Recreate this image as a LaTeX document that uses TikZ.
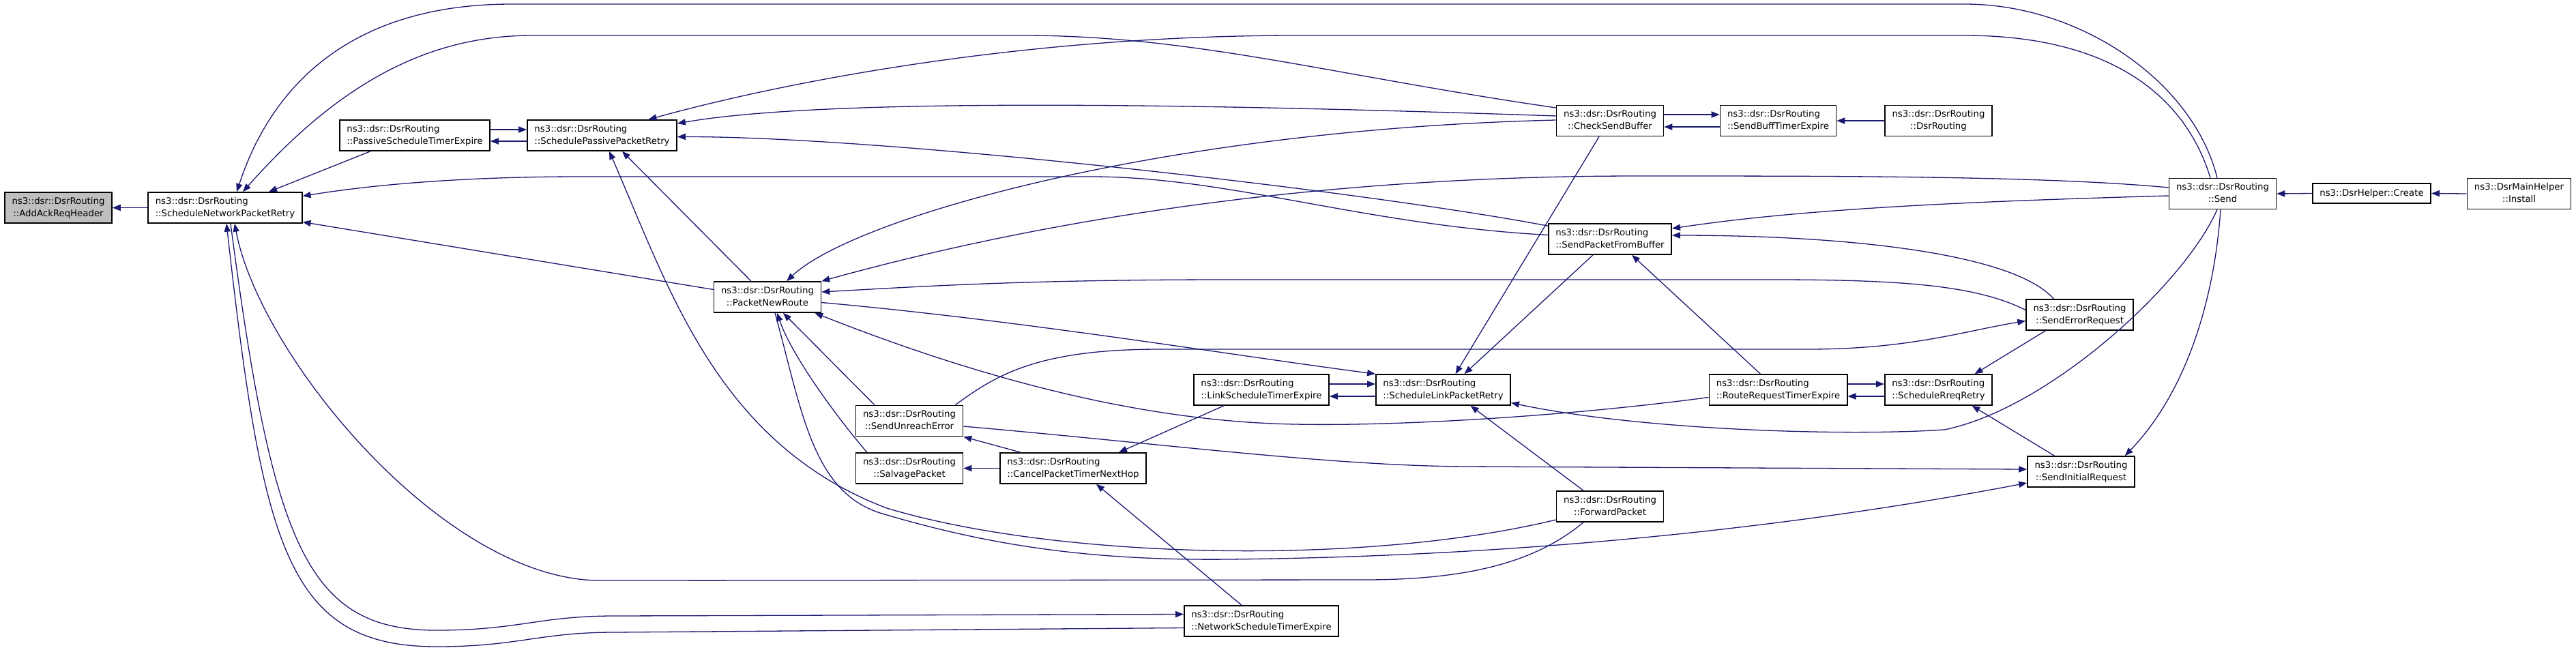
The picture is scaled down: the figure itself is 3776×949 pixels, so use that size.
\documentclass[tikz,border=0pt]{standalone}
\usepackage{fontspec}
\setmainfont{DejaVu Sans}
\usepackage{tikz}
\usetikzlibrary{calc}
\usetikzlibrary{arrows.meta}
\definecolor{callblue}{HTML}{191970}
\definecolor{rootgray}{HTML}{BFBFBF}
% first line left, last line centred
\newcommand{\twoline}[2]{\begin{tabular}{@{}c@{}}\multicolumn{1}{@{}l@{}}{#1}\\#2\end{tabular}}
\newcommand{\dsrfn}[1]{\twoline{ns3::dsr::DsrRouting}{#1}}

\begin{document}
\begin{tikzpicture}[x=0.5pt, y=-0.5pt,
  fn/.style={rectangle, draw=black, line width=0.8pt, fill=white, inner xsep=5.25pt, inner ysep=1pt, minimum height=22.5pt, font=\fontsize{6.65}{9}\selectfont},
  call/.style={draw=callblue, line width=0.65pt, -{Triangle[length=6pt,width=4.6pt]}}]
\useasboundingbox (0,0) rectangle (3776,949);

\node at (85.5,304.5) [fn, fill=rootgray] (addack) {\dsrfn{::AddAckReqHeader}};
\node at (330,304.5) [fn] (netretry) {\dsrfn{::ScheduleNetworkPacketRetry}};
\node at (608,198.5) [fn] (passexp) {\dsrfn{::PassiveScheduleTimerExpire}};
\node at (882.5,198.5) [fn] (passretry) {\dsrfn{::SchedulePassivePacketRetry}};
\node at (1125,435.5) [fn] (newroute) {\dsrfn{::PacketNewRoute}};
\node at (1333,617) [fn] (unreach) {\dsrfn{::SendUnreachError}};
\node at (1333,686.5) [fn] (salvage) {\dsrfn{::SalvagePacket}};
\node at (1573,686.5) [fn] (cancelhop) {\dsrfn{::CancelPacketTimerNextHop}};
\node at (1849,571.5) [fn] (linkexp) {\dsrfn{::LinkScheduleTimerExpire}};
\node at (2115.5,571.5) [fn] (linkretry) {\dsrfn{::ScheduleLinkPacketRetry}};
\node at (1849,910.5) [fn] (netexp) {\dsrfn{::NetworkScheduleTimerExpire}};
\node at (2360,177) [fn] (checkbuf) {\dsrfn{::CheckSendBuffer}};
\node at (2606.5,177) [fn] (buffexp) {\dsrfn{::SendBuffTimerExpire}};
\node at (2841.5,177) [fn] (ctor) {\dsrfn{::DsrRouting}};
\node at (2360,350.5) [fn] (frombuf) {\dsrfn{::SendPacketFromBuffer}};
\node at (3258,284) [fn] (send) {\dsrfn{::Send}};
\node at (3476.5,283.5) [fn, minimum height=14.5pt] (create) {ns3::DsrHelper::Create};
\node at (3692.5,284) [fn] (install) {\twoline{ns3::DsrMainHelper}{::Install}};
\node at (3048.5,461.5) [fn] (errreq) {\dsrfn{::SendErrorRequest}};
\node at (2606.5,571.5) [fn] (rreqexp) {\dsrfn{::RouteRequestTimerExpire}};
\node at (2841.5,571.5) [fn] (rreqretry) {\dsrfn{::ScheduleRreqRetry}};
\node at (3050.5,691.5) [fn] (initreq) {\dsrfn{::SendInitialRequest}};
\node at (2360,742.5) [fn] (forward) {\dsrfn{::ForwardPacket}};

% root
\draw[call] (netretry.west) -- (addack.east);

% into ScheduleNetworkPacketRetry
\draw[call] ($(passexp.south)+(-65,0)$) -- ($(netretry.north)+(64,0)$);
\draw[call] ($(send.north)+(-8,0)$) .. controls (3215,120) and (3050,6) .. (2880,6) -- (750,6) .. controls (520,6) and (400,120) .. ($(netretry.north)+(17,0)$);
\draw[call] ($(checkbuf.west)+(0,-19)$) .. controls (1950,110) and (1750,52) .. (1500,52) -- (780,52) .. controls (620,52) and (490,130) .. ($(netretry.north)+(26,0)$);
\draw[call] ($(frombuf.west)+(0,-6)$) .. controls (2000,330) and (1800,259) .. (1600,259) -- (850,259) .. controls (650,259) and (520,275) .. ($(netretry.east)+(0,-17)$);
\draw[call] ($(newroute.west)+(0,-11)$) -- ($(netretry.east)+(0,21)$);
\draw[call] ($(forward.south)+(-39,0)$) .. controls (2250,825) and (2150,850) .. (2000,850) -- (880,851) .. controls (650,851) and (380,520) .. ($(netretry.south)+(14,0)$);
\draw[call] ($(netretry.south)+(8,0)$) .. controls (400,800) and (450,924) .. (640,924) .. controls (760,924) and (790,903) .. (900,903) -- ($(netexp.west)+(0,-10)$);
\draw[call] ($(netexp.west)+(0,10)$) -- (900,927) .. controls (790,927) and (760,948) .. (640,948) .. controls (420,948) and (385,800) .. ($(netretry.south)+(2,0)$);

% passive retry
\draw[call] ($(passexp.east)+(0,-8.5)$) -- ($(passretry.west)+(0,-8.5)$);
\draw[call] ($(passretry.west)+(0,8.5)$) -- ($(passexp.east)+(0,8.5)$);
\draw[call] ($(send.north)+(-18,0)$) .. controls (3200,130) and (3080,52) .. (2880,52) -- (1900,52) .. controls (1500,52) and (1150,120) .. ($(passretry.north)+(68,0)$);
\draw[call] ($(checkbuf.west)+(0,-7)$) .. controls (1700,150) and (1200,145) .. ($(passretry.east)+(0,-17.5)$);
\draw[call] ($(frombuf.north west)+(0,4)$) .. controls (2000,280) and (1300,200) .. ($(passretry.east)+(0,2)$);
\draw[call] ($(newroute.north)+(-24,0)$) -- ($(passretry.south)+(29.5,0)$);
\draw[call] ($(forward.west)+(0,19.5)$) .. controls (2000,830) and (1550,820) .. (1300,745) .. controls (1050,650) and (980,420) .. ($(passretry.south)+(10.5,0)$);

% into PacketNewRoute
\draw[call] ($(checkbuf.west)+(0,-1)$) .. controls (1700,190) and (1250,320) .. ($(newroute.north)+(28,0)$);
\draw[call] ($(send.west)+(0,-9)$) .. controls (3000,258) and (2700,258) .. (2400,258) .. controls (1900,258) and (1500,330) .. (newroute.north east);
\draw[call] ($(errreq.west)+(0,-7)$) .. controls (2900,420) and (2800,410) .. (2600,410) -- (1800,410) .. controls (1500,410) and (1350,420) .. ($(newroute.east)+(0,-7.5)$);
\draw[call] ($(rreqexp.west)+(0,11)$) .. controls (2300,610) and (2050,625) .. (1900,622) .. controls (1650,618) and (1400,540) .. ($(newroute.south east)+(-10,0)$);
\draw[call] ($(unreach.north)+(-51,0)$) -- ($(newroute.south)+(23,0)$);
\draw[call] ($(salvage.north)+(-62,0)$) .. controls (1225,610) and (1160,520) .. ($(newroute.south)+(14,0)$);
\draw[call] ($(newroute.east)+(0,8)$) .. controls (1500,470) and (1800,520) .. (linkretry.north west);
\draw[call] ($(newroute.south)+(11,0)$) .. controls (1175,600) and (1190,720) .. (1290,752) .. controls (1450,800) and (1600,822) .. (1800,820) .. controls (2300,815) and (2700,760) .. ($(initreq.west)+(0,16.5)$);

% unreach error, cancel, salvage
\draw[call] ($(unreach.north east)+(-12,0)$) .. controls (1460,550) and (1520,512) .. (1700,512) -- (2650,512) .. controls (2800,512) and (2880,485) .. ($(errreq.west)+(0,9)$);
\draw[call] ($(unreach.east)+(0,8)$) .. controls (1700,650) and (1950,683) .. (2150,684) -- ($(initreq.west)+(0,-3.5)$);
\draw[call] ($(cancelhop.north west)+(31,0)$) -- (unreach.south east);
\draw[call] (cancelhop.west) -- (salvage.east);
\draw[call] ($(linkexp.south)+(-55,0)$) -- ($(cancelhop.north)+(67,0)$);
\draw[call] ($(netexp.north)+(-29,0)$) -- ($(cancelhop.south)+(34,0)$);

% link retry
\draw[call] ($(linkexp.east)+(0,-8.5)$) -- ($(linkretry.west)+(0,-8.5)$);
\draw[call] ($(linkretry.west)+(0,9.5)$) -- ($(linkexp.east)+(0,9.5)$);
\draw[call] ($(checkbuf.south)+(-16,0)$) -- ($(linkretry.north)+(18,0)$);
\draw[call] ($(frombuf.south)+(-25,0)$) -- ($(linkretry.north)+(31,0)$);
\draw[call] ($(send.south)+(-8,0)$) .. controls (3200,420) and (3000,600) .. (2850,630) .. controls (2700,640) and (2400,630) .. ($(linkretry.east)+(0,19)$);
\draw[call] ($(forward.north)+(-39,0)$) -- ($(linkretry.south)+(40,0)$);

% send buffer
\draw[call] ($(checkbuf.east)+(0,-9)$) -- ($(buffexp.west)+(0,-9)$);
\draw[call] ($(buffexp.west)+(0,9)$) -- ($(checkbuf.east)+(0,9)$);
\draw[call] (ctor.west) -- (buffexp.east);
\draw[call] ($(rreqexp.north)+(-26,0)$) -- ($(frombuf.south)+(32,0)$);
\draw[call] ($(send.west)+(0,3)$) .. controls (2900,295) and (2650,305) .. ($(frombuf.east)+(0,-15.5)$);
\draw[call] ($(errreq.north)+(-38,0)$) .. controls (2950,370) and (2700,345) .. ($(frombuf.east)+(0,-5.5)$);

% route requests
\draw[call] ($(rreqexp.east)+(0,-8.5)$) -- ($(rreqretry.west)+(0,-8.5)$);
\draw[call] ($(rreqretry.west)+(0,9.5)$) -- ($(rreqexp.east)+(0,9.5)$);
\draw[call] ($(errreq.south)+(-50,0)$) -- ($(rreqretry.north)+(53,0)$);
\draw[call] ($(initreq.north)+(-39,0)$) -- ($(rreqretry.south)+(49,0)$);
\draw[call] ($(send.south)+(-3,0)$) .. controls (3245,450) and (3200,580) .. ($(initreq.north east)+(-15,0)$);

% helpers
\draw[call] (create.west) -- (send.east);
\draw[call] (install.west) -- (create.east);
\end{tikzpicture}
\end{document}
